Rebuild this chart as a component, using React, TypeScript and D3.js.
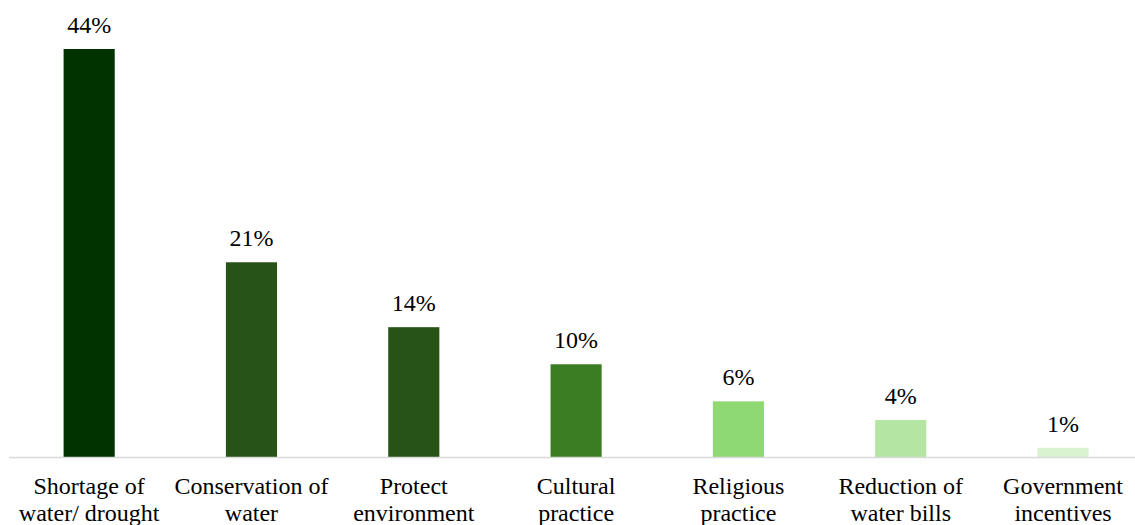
import React from "react";
import * as d3 from "d3";

const categories: string[][] = [
  ["Shortage of", "water/ drought"],
  ["Conservation of", "water"],
  ["Protect", "environment"],
  ["Cultural", "practice"],
  ["Religious", "practice"],
  ["Reduction of", "water bills"],
  ["Government", "incentives"],
];
const values: number[] = [44, 21, 14, 10, 6, 4, 1];
const colors: string[] = ["#013300", "#275317", "#275317", "#3B7D23", "#8ED973", "#B4E5A2", "#D9F2D0"];

const W = 1135;
const H = 525;
const baseY = 457;

export default function App() {
  const x = d3
    .scaleBand<number>()
    .domain(values.map((_, i) => i))
    .range([8, 1144.2])
    .paddingInner(0.685)
    .paddingOuter(0.3425);
  const y = d3.scaleLinear().domain([0, 44]).range([baseY, 49]);
  const textStyle: React.CSSProperties = {
    fontFamily: '"Liberation Serif"',
    fontSize: "24px",
  };
  return (
    <svg width={W} height={H} style={{ position: "absolute", left: 0, top: 0 }}>
      {values.map((v, i) => (
        <g key={i}>
          <rect x={x(i)} y={y(v)} width={x.bandwidth()} height={baseY - y(v)} fill={colors[i]} />
          <text
            x={(x(i) as number) + x.bandwidth() / 2}
            y={y(v) - 16}
            textAnchor="middle"
            style={textStyle}
            fill="#000"
          >
            {v + "%"}
          </text>
          {categories[i].map((line, j) => (
            <text
              key={j}
              x={(x(i) as number) + x.bandwidth() / 2}
              y={494 + j * 27}
              textAnchor="middle"
              style={textStyle}
              fill="#000"
            >
              {line}
            </text>
          ))}
        </g>
      ))}
      <line x1={9} x2={W} y1={baseY + 0.5} y2={baseY + 0.5} stroke="#D9D9D9" strokeWidth={1.5} />
    </svg>
  );
}
